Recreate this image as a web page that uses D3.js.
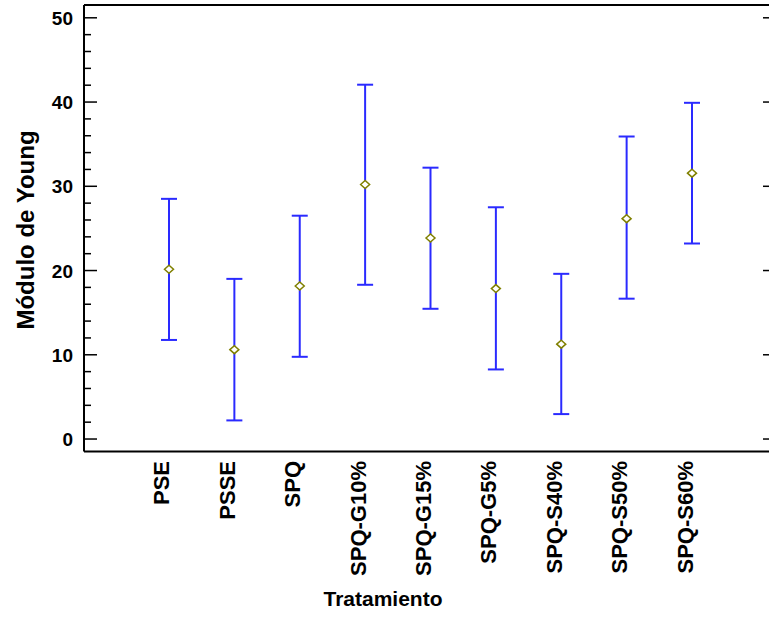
<!DOCTYPE html>
<html>
<head>
<meta charset="utf-8">
<script src="https://cdn.jsdelivr.net/npm/d3@7"></script>
<style>
  body { margin: 0; background: #fff; }
  svg { display: block; font-family: "Liberation Sans", Arial, sans-serif; font-weight: bold; }
</style>
</head>
<body>
<div id="chart"></div>
<script>
const categories = ['PSE', 'PSSE', 'SPQ', 'SPQ-G10%', 'SPQ-G15%', 'SPQ-G5%', 'SPQ-S40%', 'SPQ-S50%', 'SPQ-S60%'];
const means = [20.1, 10.55, 18.1, 30.15, 23.8, 17.8, 11.2, 26.1, 31.5];
const lower = [11.7, 2.15, 9.7, 18.25, 15.4, 8.2, 2.9, 16.6, 23.15];
const upper = [28.45, 18.95, 26.45, 42.0, 32.15, 27.45, 19.55, 35.85, 39.85];
const yTicks = [0, 10, 20, 30, 40, 50];
const yMinorTicks = [2, 4, 6, 8, 12, 14, 16, 18, 22, 24, 26, 28, 32, 34, 36, 38, 42, 44, 46, 48];

const width = 769, height = 618;
const plotLeft = 84, plotRight = 770, plotTop = 5, plotBottom = 451.5;

const svg = d3.select('#chart').append('svg')
    .attr('width', width)
    .attr('height', height);

const x = d3.scaleLinear().domain([-0.3, 10.193]).range([plotLeft, plotRight]);
const y = d3.scaleLinear().domain([-1.54, 51.46]).range([plotBottom, plotTop]);

// left axis, ticks pointing inward
const yAxis = svg.append('g')
    .attr('transform', `translate(${plotLeft},0)`)
    .call(d3.axisLeft(y).tickValues(yTicks).tickSizeInner(-13).tickSizeOuter(0).tickPadding(11));
yAxis.attr('font-size', null).attr('font-family', null);
yAxis.select('.domain').remove();
yAxis.selectAll('line').attr('stroke', '#000').attr('stroke-width', 1.5);
yAxis.selectAll('text')
    .attr('x', -11)
    .attr('dy', 7)
    .attr('fill', '#000')
    .style('font-size', '19px');

const yMinor = svg.append('g')
    .attr('transform', `translate(${plotLeft},0)`)
    .call(d3.axisLeft(y).tickValues(yMinorTicks).tickSizeInner(-7).tickSizeOuter(0).tickFormat(''));
yMinor.select('.domain').remove();
yMinor.selectAll('line').attr('stroke', '#000').attr('stroke-width', 1.5);

// right axis ticks
const yRight = svg.append('g')
    .attr('transform', `translate(${plotRight},0)`)
    .call(d3.axisRight(y).tickValues(yTicks).tickSizeInner(-7).tickSizeOuter(0).tickFormat(''));
yRight.select('.domain').remove();
yRight.selectAll('line').attr('stroke', '#000').attr('stroke-width', 1.5);

// frame
const frame = svg.append('g').attr('stroke', '#000').attr('stroke-width', 2);
frame.append('line').attr('x1', plotLeft).attr('x2', plotRight).attr('y1', plotTop).attr('y2', plotTop);
frame.append('line').attr('x1', plotLeft).attr('x2', plotRight).attr('y1', plotBottom).attr('y2', plotBottom);
frame.append('line').attr('x1', plotLeft).attr('x2', plotLeft).attr('y1', plotTop).attr('y2', plotBottom);
frame.append('line').attr('x1', plotRight).attr('x2', plotRight).attr('y1', plotTop).attr('y2', plotBottom);

// error bars
const bars = svg.append('g')
    .selectAll('g')
    .data(categories)
    .join('g')
    .attr('transform', (d, i) => `translate(${x(i + 1)},0)`);

bars.append('line')
    .attr('y1', (d, i) => y(lower[i]))
    .attr('y2', (d, i) => y(upper[i]))
    .attr('stroke', '#2a2aff')
    .attr('stroke-width', 2);
bars.append('line')
    .attr('x1', -8).attr('x2', 8)
    .attr('y1', (d, i) => y(upper[i]))
    .attr('y2', (d, i) => y(upper[i]))
    .attr('stroke', '#2a2aff')
    .attr('stroke-width', 2);
bars.append('line')
    .attr('x1', -8).attr('x2', 8)
    .attr('y1', (d, i) => y(lower[i]))
    .attr('y2', (d, i) => y(lower[i]))
    .attr('stroke', '#2a2aff')
    .attr('stroke-width', 2);

// mean markers
bars.append('path')
    .attr('d', (d, i) => {
        const cy = y(means[i]);
        return `M-4.5,${cy}L0,${cy - 4}L4.5,${cy}L0,${cy + 4}Z`;
    })
    .attr('fill', '#fff')
    .attr('stroke', '#808000')
    .attr('stroke-width', 1.5);

// category labels
svg.append('g')
    .selectAll('text')
    .data(categories)
    .join('text')
    .attr('transform', (d, i) => `translate(${x(i + 1) + 0.5},461) rotate(-90)`)
    .attr('text-anchor', 'end')
    .style('font-size', '22px')
    .text(d => d);

svg.append('text')
    .attr('x', 383)
    .attr('y', 606)
    .attr('text-anchor', 'middle')
    .style('font-size', '21px')
    .text('Tratamiento');

svg.append('text')
    .attr('transform', 'translate(34,230) rotate(-90)')
    .attr('text-anchor', 'middle')
    .style('font-size', '24px')
    .text('Módulo de Young');
</script>
</body>
</html>
